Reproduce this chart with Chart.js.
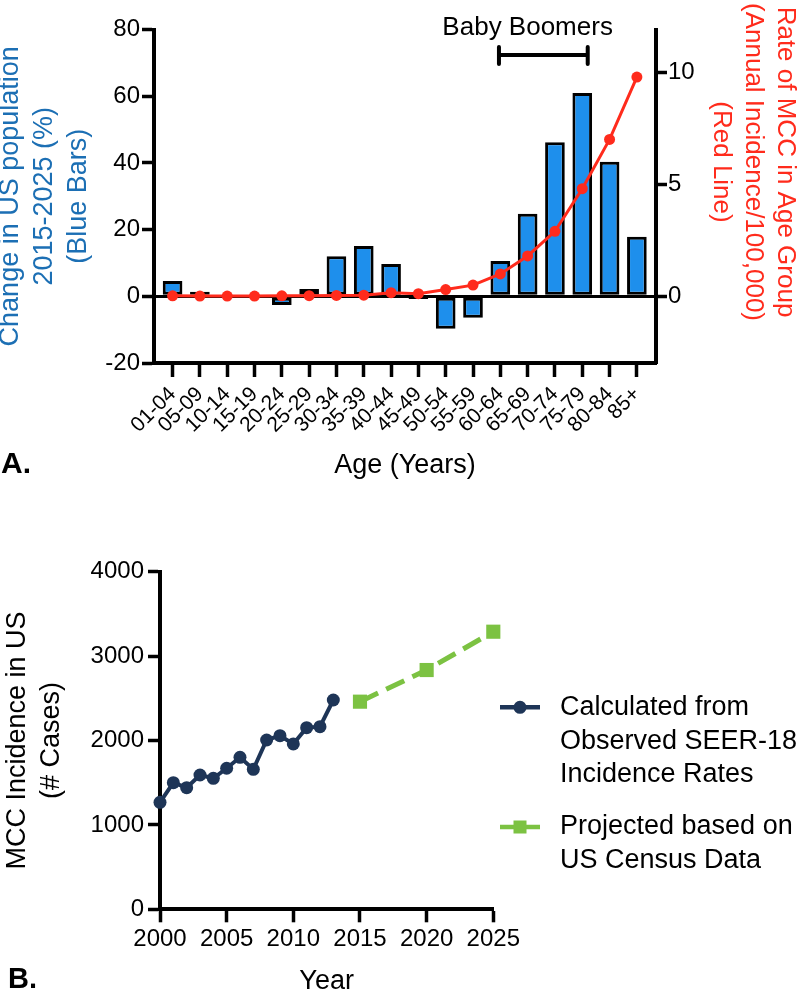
<!DOCTYPE html>
<html><head><meta charset="utf-8">
<script src="https://cdn.jsdelivr.net/npm/chart.js@4"></script>
<style>
html,body{margin:0;padding:0;background:#fff;}
#wrapA{position:absolute;left:0;top:0;width:800px;height:500px;}
#wrapB{position:absolute;left:0;top:500px;width:800px;height:491px;}
canvas{display:block;}
</style></head><body>
<div id="wrapA"><canvas id="chartA" width="800" height="500"></canvas></div>
<div id="wrapB"><canvas id="chartB" width="800" height="491"></canvas></div>
<script>
// ---------- Data: panel A ----------
const ageGroups = ['01-04','05-09','10-14','15-19','20-24','25-29','30-34','35-39','40-44','45-49','50-54','55-59','60-64','65-69','70-74','75-79','80-84','85+'];
const popChange = [4.6, 1.4, 0, 0, -2.6, 2.2, 12.0, 15.1, 9.7, -0.8, -9.7, -6.4, 10.6, 24.8, 46.2, 61.0, 40.4, 17.9];
const mccRate   = [0.02, 0.01, 0.01, 0.01, 0.02, 0.03, 0.04, 0.05, 0.16, 0.12, 0.30, 0.50, 1.00, 1.80, 2.90, 4.80, 7.00, 9.78];
const leftTicksA  = [-20, 0, 20, 40, 60, 80];
const rightTicksA = [0, 5, 10];
const boomerRange = [11.95, 15.2];   // bracket span on the age-group index axis
const boomerLabelAt = 13;

// ---------- Data: panel B ----------
const obsYears = [2000,2001,2002,2003,2004,2005,2006,2007,2008,2009,2010,2011,2012,2013];
const observed = [1268,1500,1441,1591,1552,1671,1801,1659,2006,2057,1959,2152,2164,2480];
const projYears = [2015,2020,2025];
const projected = [2460,2835,3289];
const yearTicks = ['2000','2005','2010','2015','2020','2025'];
const caseTicks = ['0','1000','2000','3000','4000'];

const FONT = "'Liberation Sans', Arial, Helvetica, sans-serif";
Chart.defaults.font.family = FONT;
Chart.defaults.color = '#000';

const BLUE = '#1E8FEC';
const BLUE_T = '#1C6FB4';
const RED = '#FF2B1C';
const NAVY = '#1E3557';
const GREEN = '#7CC242';

const annotA = {
  id: 'annotA',
  afterDraw(chart) {
    const ctx = chart.ctx, xs = chart.scales.x;
    ctx.save();
    ctx.fillStyle = '#000';
    ctx.font = '26px ' + FONT;
    ctx.textAlign = 'center';
    ctx.textBaseline = 'alphabetic';
    ctx.fillText('Baby Boomers', xs.getPixelForValue(boomerLabelAt), 35);
    const x1 = xs.getPixelForValue(boomerRange[0]), x2 = xs.getPixelForValue(boomerRange[1]);
    ctx.strokeStyle = '#000'; ctx.lineWidth = 4; ctx.lineCap = 'round';
    ctx.beginPath();
    ctx.moveTo(x1, 55); ctx.lineTo(x2, 55);
    ctx.moveTo(x1, 47); ctx.lineTo(x1, 64);
    ctx.moveTo(x2, 47); ctx.lineTo(x2, 64);
    ctx.stroke();
    const lines = ['Rate of MCC in Age Group', '(Annual Incidence/100,000)', '(Red Line)'];
    ctx.fillStyle = RED;
    ctx.font = '26px ' + FONT;
    ctx.textBaseline = 'middle';
    lines.forEach((t, i) => {
      ctx.save();
      ctx.translate(785 - i * 32, 162);
      ctx.rotate(Math.PI / 2);
      ctx.fillText(t, 0, 0);
      ctx.restore();
    });
    ctx.fillStyle = '#000';
    ctx.font = 'bold 30px ' + FONT;
    ctx.textAlign = 'left';
    ctx.textBaseline = 'alphabetic';
    ctx.fillText('A.', 1, 473);
    ctx.restore();
  }
};

new Chart(document.getElementById('chartA'), {
  type: 'bar',
  data: {
    datasets: [
      {
        type: 'line', label: 'Rate of MCC in Age Group', yAxisID: 'yR', xAxisID: 'x',
        data: mccRate.map((v, i) => ({x: i, y: v})),
        borderColor: RED, backgroundColor: RED, borderWidth: 3,
        pointRadius: 5.5, pointBackgroundColor: RED, pointBorderWidth: 0,
        tension: 0, order: 0, clip: false
      },
      {
        type: 'bar', label: 'Change in US population', yAxisID: 'y', xAxisID: 'x',
        data: popChange.map((v, i) => ({x: i, y: v})),
        backgroundColor: BLUE, borderColor: '#000', borderWidth: 3, borderSkipped: false,
        barPercentage: 0.9, categoryPercentage: 0.8, order: 1
      }
    ]
  },
  options: {
    responsive: false, animation: false,
    layout: {padding: {top: 29.6, left: 0, right: 0, bottom: 0}},
    plugins: {legend: {display: false}, tooltip: {enabled: false}},
    scales: {
      x: {
        type: 'linear', position: 'bottom', min: -0.68, max: 17.7, offset: false,
        afterFit: s => { s.height = 500 - 363; },
        border: {display: true, color: '#000', width: 4},
        grid: {display: true, drawOnChartArea: false, offset: false, tickLength: 14, tickWidth: 3.5, tickColor: '#000'},
        ticks: {stepSize: 1, includeBounds: false, autoSkip: false, maxRotation: 45, minRotation: 45, padding: 5,
                font: {size: 21}, callback: v => (ageGroups[v] !== undefined ? ageGroups[v] : '')},
        title: {display: true, text: 'Age (Years)', font: {size: 27}, padding: {top: 0, bottom: 18}}
      },
      y: {
        position: 'left', min: -20, max: 80,
        afterFit: s => { s.width = 154; },
        border: {display: true, color: '#000', width: 4},
        grid: {color: c => (c.tick && c.tick.value === 0 ? '#000' : 'rgba(0,0,0,0)'), lineWidth: 3,
               tickColor: '#000', tickWidth: 3.5, tickLength: 12},
        ticks: {stepSize: 20, font: {size: 24}, padding: 2,
                callback: v => (leftTicksA.includes(v) ? String(v) : '')},
        title: {display: true, text: ['Change in US population', '2015-2025 (%)', '(Blue Bars)'],
                color: BLUE_T, font: {size: 27, lineHeight: 1.25}, padding: {top: -6, bottom: 0}}
      },
      yR: {
        position: 'right', min: -2.975, max: 11.9,
        afterFit: s => { s.width = 144; },
        border: {display: true, color: '#000', width: 4},
        grid: {drawOnChartArea: false, tickColor: '#000', tickWidth: 3.5, tickLength: 11},
        ticks: {stepSize: 5, includeBounds: false, font: {size: 24}, padding: 1,
                callback: v => (rightTicksA.includes(v) ? String(v) : '')}
      }
    }
  },
  plugins: [annotA]
});

const legendB = {
  id: 'legendB',
  afterDraw(chart) {
    const ctx = chart.ctx;
    const items = [
      {ds: chart.data.datasets[0], y: 207.3, lines: ['Calculated from', 'Observed SEER-18', 'Incidence Rates']},
      {ds: chart.data.datasets[1], y: 327, lines: ['Projected based on', 'US Census Data']}
    ];
    ctx.save();
    items.forEach(it => {
      ctx.strokeStyle = it.ds.borderColor;
      ctx.lineWidth = 4.5;
      ctx.setLineDash([]);
      ctx.beginPath(); ctx.moveTo(500, it.y); ctx.lineTo(540, it.y); ctx.stroke();
      ctx.fillStyle = it.ds.borderColor;
      if (it.ds.pointStyle === 'rect') {
        ctx.fillRect(520 - 6.5, it.y - 6.5, 13, 13);
      } else {
        ctx.beginPath(); ctx.arc(520, it.y, 6.5, 0, Math.PI * 2); ctx.fill();
      }
      ctx.fillStyle = '#000';
      ctx.font = '27px ' + FONT;
      ctx.textAlign = 'left';
      ctx.textBaseline = 'middle';
      it.lines.forEach((t, i) => ctx.fillText(t, 560, it.y + i * 33.8));
    });
    ctx.font = 'bold 29px ' + FONT;
    ctx.textBaseline = 'alphabetic';
    ctx.fillText('B.', 8, 488);
    ctx.restore();
  }
};

new Chart(document.getElementById('chartB'), {
  type: 'line',
  data: {
    datasets: [
      {
        label: 'Calculated from Observed SEER-18 Incidence Rates',
        data: obsYears.map((x, i) => ({x: x, y: observed[i]})),
        borderColor: NAVY, backgroundColor: NAVY, borderWidth: 4,
        pointRadius: 6.5, pointBorderWidth: 0, pointBackgroundColor: NAVY, tension: 0, clip: false
      },
      {
        label: 'Projected based on US Census Data',
        data: projYears.map((x, i) => ({x: x, y: projected[i]})),
        borderColor: GREEN, backgroundColor: GREEN, borderWidth: 5, borderDash: [20, 9],
        pointStyle: 'rect', pointRadius: 10, pointBorderWidth: 0, pointBackgroundColor: GREEN, tension: 0, clip: false
      }
    ]
  },
  options: {
    responsive: false, animation: false,
    layout: {padding: {top: 71.7, right: 306.7, left: 0, bottom: 0}},
    plugins: {legend: {display: false}, tooltip: {enabled: false}},
    scales: {
      x: {
        type: 'linear', min: 2000, max: 2025,
        afterFit: s => { s.height = 491 - 409.3; },
        border: {display: true, color: '#000', width: 4},
        grid: {drawOnChartArea: false, tickLength: 13, tickWidth: 3.5, tickColor: '#000'},
        ticks: {stepSize: 5, maxRotation: 0, font: {size: 24}, padding: 3,
                callback: v => (yearTicks.includes(String(v)) ? String(v) : '')},
        title: {display: true, text: 'Year', font: {size: 27}, padding: {top: 0, bottom: -7}}
      },
      y: {
        min: 0, max: 4000,
        afterFit: s => { s.width = 160; },
        border: {display: true, color: '#000', width: 4},
        grid: {drawOnChartArea: false, tickLength: 12, tickWidth: 3.5, tickColor: '#000'},
        ticks: {stepSize: 1000, font: {size: 24}, padding: 4,
                callback: v => (caseTicks.includes(String(v)) ? String(v) : '')},
        title: {display: true, text: ['MCC Incidence in US', '(# Cases)'], font: {size: 27, lineHeight: 1.25},
                padding: {top: 1, bottom: 0}}
      }
    }
  },
  plugins: [legendB]
});
</script>
</body></html>
